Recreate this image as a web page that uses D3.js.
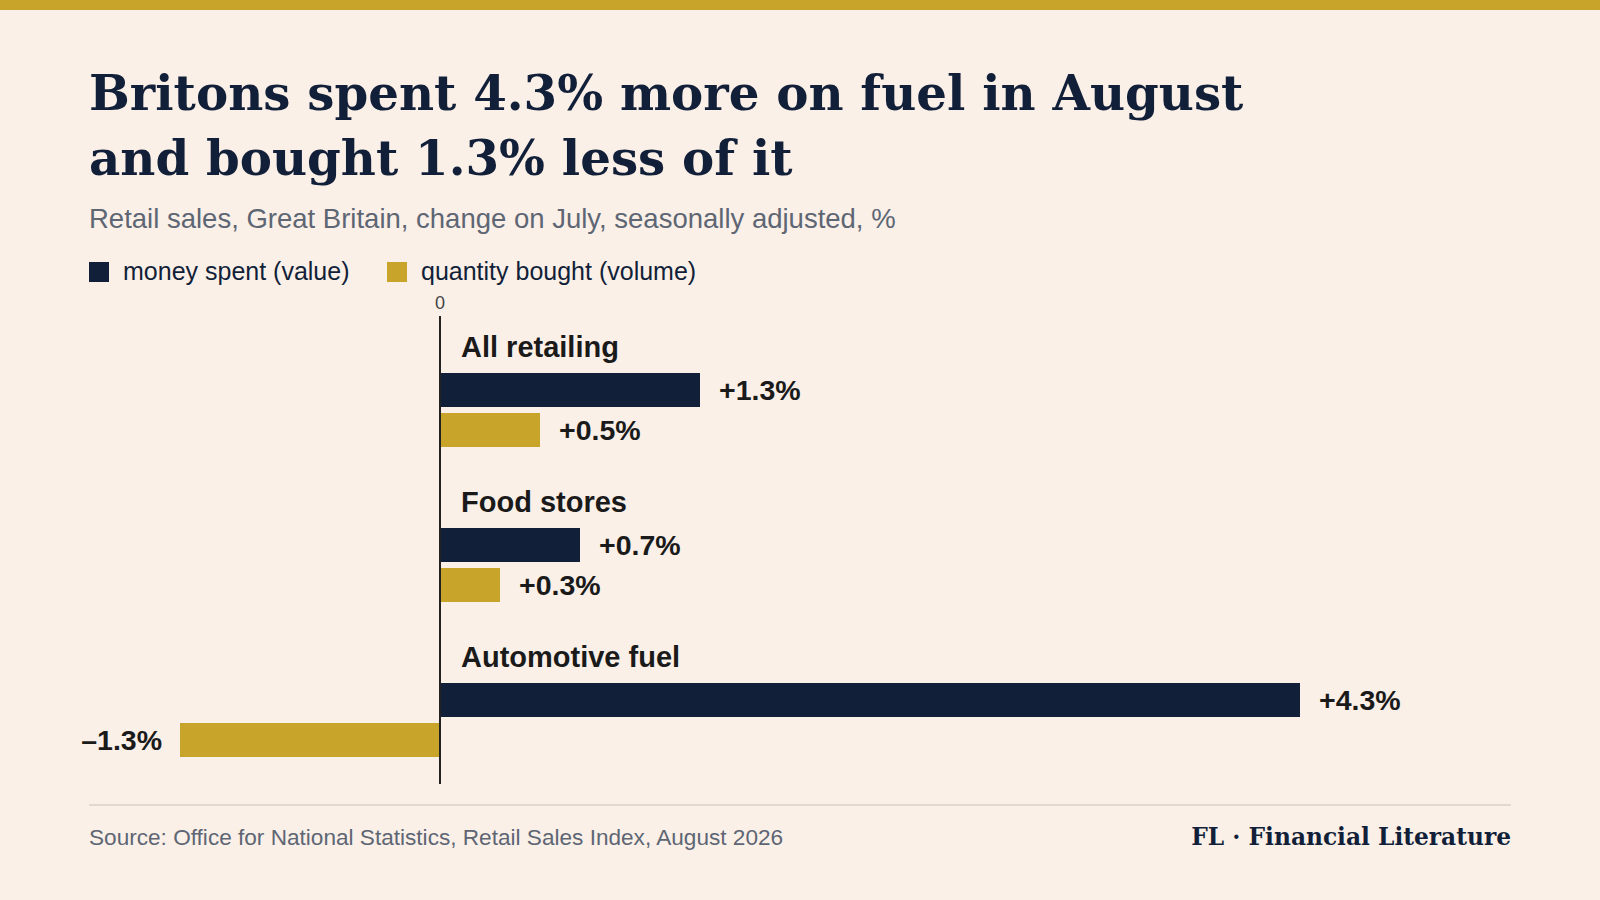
<!DOCTYPE html>
<html><head><meta charset="utf-8">
<script src="https://cdn.jsdelivr.net/npm/d3@7"></script>
<style>body{margin:0;background:#faf0e8}</style></head>
<body><div id="chart"></div>
<script>
// Data
const categories = ['All retailing', 'Food stores', 'Automotive fuel']
const valueSpent = [1.3, 0.7, 4.3]
const volumeBought = [0.5, 0.3, -1.3]
const seriesNames = ['money spent (value)', 'quantity bought (volume)']

const navy = '#121f38', gold = '#c9a42a'
const sans = 'Helvetica, "Liberation Sans", Arial, sans-serif'
const serif = 'Georgia, "DejaVu Serif", serif'

const svg = d3.select('#chart').append('svg').attr('width', 1600).attr('height', 900)
svg.append('rect').attr('width', 1600).attr('height', 900).attr('fill', '#faf0e8')
svg.append('rect').attr('width', 1600).attr('height', 10).attr('fill', gold)

svg.append('text').attr('x', 89).attr('y', 110).text('Britons spent 4.3% more on fuel in August')
  .attr('font-family', serif).attr('font-weight', 'bold').attr('font-size', 48.3).attr('fill', navy)
svg.append('text').attr('x', 89).attr('y', 175).text('and bought 1.3% less of it')
  .attr('font-family', serif).attr('font-weight', 'bold').attr('font-size', 48.3).attr('fill', navy)
svg.append('text').attr('x', 89).attr('y', 228).text('Retail sales, Great Britain, change on July, seasonally adjusted, %')
  .attr('font-family', sans).attr('font-size', 27.5).attr('fill', '#5e6674')

// Legend
const legX = [89, 387]
seriesNames.forEach((n, i) => {
  svg.append('rect').attr('x', legX[i]).attr('y', 262).attr('width', 20).attr('height', 20).attr('fill', i ? gold : navy)
  svg.append('text').attr('x', legX[i] + 34).attr('y', 280).text(n)
    .attr('font-family', sans).attr('font-size', 25).attr('fill', navy)
})

// Scales
const x = d3.scaleLinear().domain([0, 4.3]).range([440, 1300])
const groupTop = d3.scalePoint().domain(categories).range([330, 640])

svg.append('text').attr('x', x(0)).attr('y', 309).attr('text-anchor', 'middle').text('0')
  .attr('font-family', sans).attr('font-size', 18).attr('fill', '#444')

const barH = 34
categories.forEach((c, i) => {
  const y0 = groupTop(c)
  svg.append('text').attr('x', x(0) + 21).attr('y', y0 + 27).text(c)
    .attr('font-family', sans).attr('font-weight', 'bold').attr('font-size', 29).attr('fill', '#1a1a1a')
  ;[valueSpent[i], volumeBought[i]].forEach((v, j) => {
    const y = y0 + 43 + j * 40
    svg.append('rect').attr('x', x(Math.min(0, v))).attr('y', y)
      .attr('width', Math.abs(x(v) - x(0))).attr('height', barH).attr('fill', j ? gold : navy)
    const lbl = (v > 0 ? '+' : '\u2013') + Math.abs(v).toFixed(1) + '%'
    svg.append('text').attr('x', v >= 0 ? x(v) + 19 : x(v) - 18).attr('y', y + 27)
      .attr('text-anchor', v >= 0 ? 'start' : 'end').text(lbl)
      .attr('font-family', sans).attr('font-weight', 'bold').attr('font-size', 28.5).attr('fill', '#1a1a1a')
  })
})

svg.append('line').attr('x1', x(0)).attr('x2', x(0)).attr('y1', 316).attr('y2', 784)
  .attr('stroke', '#222').attr('stroke-width', 2)

svg.append('line').attr('x1', 89).attr('x2', 1511).attr('y1', 805).attr('y2', 805)
  .attr('stroke', '#c8c0b8').attr('stroke-width', 1)
svg.append('text').attr('x', 89).attr('y', 845).text('Source: Office for National Statistics, Retail Sales Index, August 2026')
  .attr('font-family', sans).attr('font-size', 22.6).attr('fill', '#5e6674')
svg.append('text').attr('x', 1511).attr('y', 845).attr('text-anchor', 'end').text('FL \u00b7 Financial Literature')
  .attr('font-family', serif).attr('font-weight', 'bold').attr('font-size', 23.3).attr('fill', navy)
</script></body></html>
